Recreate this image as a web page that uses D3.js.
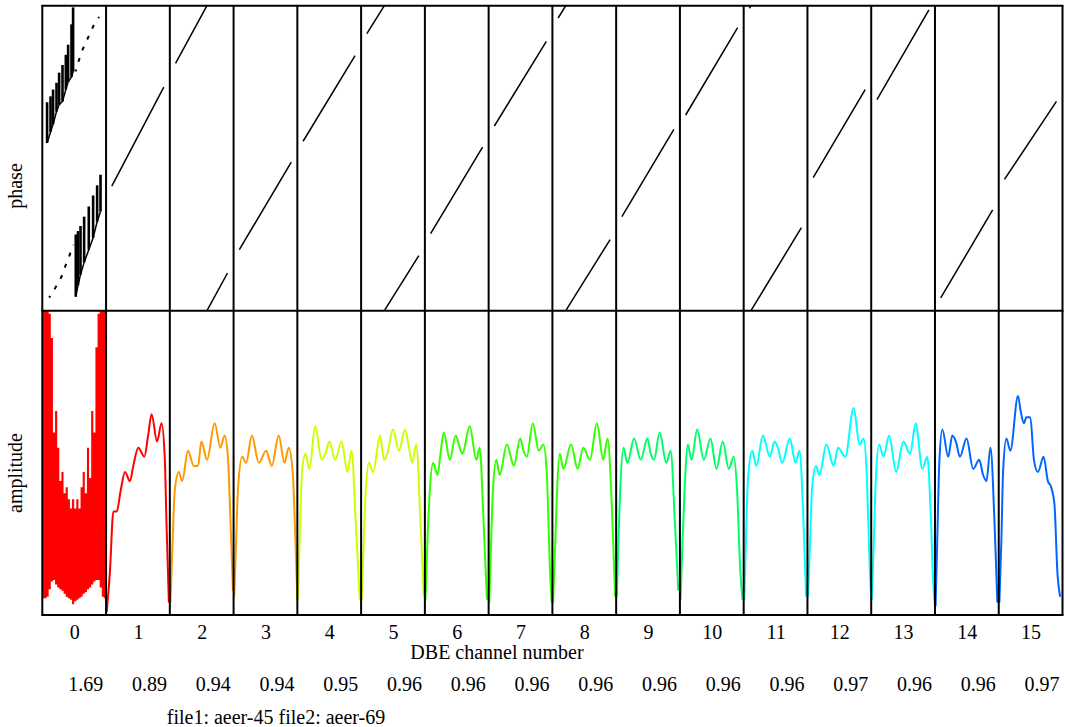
<!DOCTYPE html>
<html>
<head>
<meta charset="utf-8">
<script src="https://cdn.jsdelivr.net/npm/d3@7"></script>
<style>
  body { margin: 0; background: #fff; }
  svg { display: block; font-family: "Liberation Serif", "Times New Roman", serif; }
</style>
</head>
<body>
<svg id="chart" width="1065" height="727"></svg>
<script>
// channel ticks and the ratio printed under each channel
const channels = [0, 1, 2, 3, 4, 5, 6, 7, 8, 9, 10, 11, 12, 13, 14, 15];
const channelLabels = ["0", "1", "2", "3", "4", "5", "6", "7", "8", "9", "10", "11", "12", "13", "14", "15"];
const ratioLabels = ["1.69", "0.89", "0.94", "0.94", "0.95", "0.96", "0.96", "0.96",
  "0.96", "0.96", "0.96", "0.96", "0.97", "0.96", "0.96", "0.97"];

// phase (deg, unwrapped) at start / end of each channel passband, ch 1..15
const phaseStart = [null, -33, 112, -108, 20, 147, -89, 38, 165.5, -69, 51, 177, -23, 69, -165, -25];
const phaseEnd = [null, 84, 224.5, -4.5, 121, 245, 13, 138, 264, 34, 154, 278, 81, 175, -61, 67];

// channel 0 phase: vertical jumps [x, low, high] and dotted runs [x, phase]
const phase0UpperJumps = [[-0.425, 18, 66], [-0.371, 31, 73], [-0.331, 40, 81], [-0.277, 55, 89],
  [-0.236, 63, 101], [-0.183, 67, 110], [-0.131, 81, 122], [-0.095, 90, 134], [-0.042, 96, 158], [-0.017, 102, 178]];
const phase0LowerJumps = [[0.025, -163.5, -90], [0.06, -150, -86], [0.099, -137.5, -80], [0.156, -123, -69],
  [0.229, -108, -57], [0.297, -94, -44], [0.36, -75, -32], [0.413, -63, -19.5]];
const phase0UpperDots = [[0.021, 102.5], [0.077, 116.3], [0.131, 128.1], [0.203, 139.9],
  [0.261, 149.7], [0.324, 159.6], [0.391, 166.7]];
const phase0LowerDots = [[-0.393, -164.6], [-0.331, -157.6], [-0.268, -149.3], [-0.199, -139.9],
  [-0.136, -126.9], [-0.08, -116.3], [-0.017, -102.1]];

// channel 0 amplitude: 30 bins across the channel, top and bottom of each bin
const amp0High = [100, 100, 100, 99, 91, 60, 67, 55, 44, 47, 40, 42, 38, 35, 38,
  35, 38, 35, 42, 47, 40, 55, 45, 67, 60, 88, 99, 100, 100, 100];
const amp0Low = [5.5, 5.5, 6, 8.5, 11, 11.5, 10, 9, 8.5, 8, 7, 6, 5.5, 5, 3.5,
  4.5, 5, 5.5, 6, 7, 7.5, 8.5, 9, 10, 11, 11.5, 11.5, 9, 6, 5.5];

// amplitude per channel: [position inside channel 0..1, amplitude %]
const ampCurves = [
  [],
  [[.01, 1], [.06, 14], [.115, 34], [.167, 34], [.23, 41], [.297, 47], [.375, 44], [.427, 49], [.505, 55], [.6, 52], [.66, 59], [.714, 66], [.8, 57], [.87, 63], [.92, 52], [.948, 30], [.985, 4]],
  [[.01, 4], [.04, 22], [.078, 41], [.14, 47], [.193, 44], [.286, 54], [.375, 49], [.443, 49], [.495, 57], [.583, 51], [.703, 63], [.792, 55], [.86, 59], [.911, 52], [.953, 30], [.99, 8]],
  [[.01, 6], [.036, 22], [.068, 41], [.135, 52], [.198, 50], [.286, 59], [.396, 50], [.51, 54], [.599, 49], [.708, 59], [.797, 50], [.865, 55], [.927, 47], [.969, 25], [1.0, 5]],
  [[.01, 5], [.036, 25], [.073, 47], [.125, 53], [.188, 48], [.281, 62], [.38, 51], [.44, 53], [.5, 57], [.594, 51], [.693, 57], [.786, 47], [.849, 54], [.917, 30], [.979, 5]],
  [[.01, 5], [.042, 25], [.073, 41], [.125, 50], [.188, 47], [.297, 59], [.359, 51], [.411, 53], [.5, 61], [.594, 54], [.688, 61], [.75, 55], [.802, 50], [.865, 56], [.932, 30], [.984, 6]],
  [[.01, 5], [.042, 25], [.078, 41], [.13, 50], [.198, 46], [.245, 53], [.297, 60], [.391, 51], [.484, 59], [.547, 55], [.589, 53], [.703, 62], [.807, 51], [.859, 55], [.922, 30], [.974, 5]],
  [[.01, 4], [.036, 22], [.068, 41], [.12, 51], [.172, 46], [.286, 56], [.396, 49], [.495, 58], [.547, 54], [.599, 52], [.693, 63], [.786, 54], [.859, 56], [.911, 47], [.964, 14], [.99, 4]],
  [[.01, 4], [.042, 22], [.073, 41], [.115, 53], [.172, 48], [.292, 56], [.396, 48], [.484, 55], [.589, 51], [.698, 63], [.797, 51], [.865, 58], [.932, 36], [.984, 6]],
  [[.01, 6], [.036, 25], [.063, 41], [.115, 55], [.177, 50], [.281, 58], [.385, 51], [.49, 58], [.542, 53], [.594, 51], [.682, 60], [.786, 50], [.854, 54], [.922, 30], [.974, 8]],
  [[.01, 5], [.042, 25], [.073, 41], [.125, 56], [.182, 51], [.271, 61], [.375, 51], [.479, 58], [.573, 48], [.672, 57], [.766, 48], [.844, 52], [.896, 41], [.948, 14], [.984, 5]],
  [[.01, 5], [.036, 25], [.068, 45], [.135, 54], [.198, 49], [.302, 59], [.411, 52], [.484, 57], [.536, 55], [.604, 50], [.724, 58], [.813, 50], [.875, 54], [.932, 34], [.979, 6]],
  [[.01, 6], [.042, 25], [.073, 42], [.135, 49], [.188, 46], [.297, 56], [.411, 49], [.479, 55], [.594, 52], [.724, 68], [.818, 56], [.88, 58], [.932, 45], [.974, 17], [1.0, 5]],
  [[.01, 5], [.042, 25], [.073, 45], [.125, 56], [.193, 52], [.281, 59], [.391, 47], [.505, 57], [.609, 53], [.698, 63], [.802, 48], [.88, 52], [.932, 34], [.974, 10], [.995, 4]],
  [[.01, 3], [.036, 25], [.068, 50], [.115, 61], [.208, 52], [.271, 59], [.328, 57], [.391, 52], [.495, 58], [.599, 48], [.693, 51], [.755, 46], [.807, 44], [.87, 55], [.938, 28], [.979, 4]],
  [[.01, 4], [.042, 25], [.068, 47], [.12, 58], [.182, 54], [.302, 72], [.344, 67], [.396, 63], [.432, 65], [.495, 65], [.552, 51], [.615, 47], [.703, 52], [.771, 44], [.823, 42], [.875, 36], [.92, 14], [.964, 6]]
];

// R rainbow(10) colours, picked per channel
const palette = ["#FF0000", "#FF0000", "#FF9900", "#FF9900", "#CCFF00", "#CCFF00", "#33FF00", "#33FF00",
  "#33FF00", "#00FF66", "#00FF66", "#00FFFF", "#00FFFF", "#00FFFF", "#0066FF", "#0066FF"];

const svg = d3.select("#chart");
const yTop = 5.7, yMid = 310.7, yBottom = 615;

const x = d3.scaleLinear().domain([-0.5, 15.5]).range([42.3, 1062.5]);
const yPhase = d3.scaleLinear().domain([-180, 180]).range([yMid, yTop]);
const yAmp = d3.scaleLinear().domain([0, 100]).range([yBottom, yMid]);

// split a straight unwrapped phase ramp into wrapped pieces
function wrapSegments(x0, x1, p0, p1) {
  const segs = [];
  const slope = (x1 - x0) / (p1 - p0);
  let k = Math.floor((p0 + 180) / 360);
  let s = p0;
  while (s < p1) {
    const e = Math.min(p1, 180 + 360 * k);
    segs.push([[x0 + (s - p0) * slope, s - 360 * k], [x0 + (e - p0) * slope, e - 360 * k]]);
    s = e;
    k++;
  }
  return segs;
}

const phaseLine = d3.line().x(d => x(d[0])).y(d => yPhase(d[1]));

// phase panel
const gPhase = svg.append("g").attr("class", "phase");
channels.slice(1).forEach(ch => {
  wrapSegments(ch - 0.41, ch + 0.405, phaseStart[ch], phaseEnd[ch]).forEach(seg => {
    gPhase.append("path").attr("d", phaseLine(seg))
      .attr("fill", "none").attr("stroke", "#000").attr("stroke-width", 1.5);
  });
});

gPhase.selectAll("line.jump")
  .data(phase0UpperJumps.concat(phase0LowerJumps))
  .join("line")
  .attr("class", "jump")
  .attr("x1", d => x(d[0])).attr("x2", d => x(d[0]))
  .attr("y1", d => yPhase(d[1])).attr("y2", d => yPhase(d[2]))
  .attr("stroke", "#000").attr("stroke-width", 2.6);

// slanted edge along the bottom of each run of jumps
[phase0UpperJumps, phase0LowerJumps].forEach(jumps => {
  gPhase.append("path").attr("d", phaseLine(jumps.map(d => [d[0], d[1]])))
    .attr("fill", "none").attr("stroke", "#000").attr("stroke-width", 1.5);
});

[phase0UpperDots, phase0LowerDots].forEach(dots => {
  gPhase.append("path").attr("d", phaseLine(dots))
    .attr("fill", "none").attr("stroke", "#000").attr("stroke-width", 2)
    .attr("stroke-dasharray", "4,8").attr("stroke-dashoffset", 2);
});

// amplitude panel
const gAmp = svg.append("g").attr("class", "amplitude");

// channel 0 as one stepped area so neighbouring bins share edges
const bins = d3.scaleBand().domain(d3.range(amp0High.length)).range([x(-0.5), x(0.5)]).padding(0);
const binSteps = amp0High.map((d, i) => ({ x: bins(i), hi: d, lo: amp0Low[i] }));
binSteps.push({ x: x(0.5), hi: amp0High[amp0High.length - 1], lo: amp0Low[amp0Low.length - 1] });
gAmp.append("path")
  .attr("d", d3.area().curve(d3.curveStepAfter)
    .x(d => d.x).y0(d => yAmp(d.lo)).y1(d => yAmp(d.hi))(binSteps))
  .attr("fill", palette[0]);

const ampLine = d3.line().curve(d3.curveMonotoneX);
channels.slice(1).forEach(ch => {
  gAmp.append("path")
    .attr("d", ampLine.x(d => x(ch - 0.5 + d[0])).y(d => yAmp(d[1]))(ampCurves[ch]))
    .attr("fill", "none")
    .attr("stroke", palette[ch])
    .attr("stroke-width", 2);
});

// frame and channel dividers
const frame = svg.append("g").attr("stroke", "#000").attr("stroke-width", 2);
d3.range(-0.5, 16, 1).forEach(b => {
  frame.append("line").attr("x1", x(b)).attr("x2", x(b)).attr("y1", yTop).attr("y2", yBottom);
});
[yTop, yMid, yBottom].forEach(yy => {
  frame.append("line").attr("x1", x(-0.5) - 1).attr("x2", x(15.5) + 1).attr("y1", yy).attr("y2", yy);
});

// channel axis
const xAxis = d3.axisBottom(x)
  .tickValues(channels)
  .tickFormat((d, i) => channelLabels[i])
  .tickSize(0);
svg.append("g")
  .attr("transform", `translate(0,${yBottom})`)
  .call(xAxis)
  .call(g => g.select(".domain").remove())
  .attr("font-family", null).attr("font-size", null)
  .selectAll("text")
  .attr("dy", null).attr("y", 23.6)
  .attr("font-size", 20).attr("fill", "#000");

svg.append("text").attr("x", 497).attr("y", 658.5).attr("text-anchor", "middle")
  .attr("font-size", 20).text("DBE channel number");

svg.append("g").selectAll("text")
  .data(ratioLabels)
  .join("text")
  .attr("x", (d, i) => x(channels[i]) + 11.5)
  .attr("y", 691)
  .attr("text-anchor", "middle")
  .attr("font-size", 20)
  .text(d => d);

svg.append("text").attr("x", 276).attr("y", 724).attr("text-anchor", "middle")
  .attr("font-size", 20).text("file1: aeer-45 file2: aeer-69");

svg.append("text").attr("transform", "translate(22,186) rotate(-90)")
  .attr("text-anchor", "middle").attr("font-size", 20).text("phase");
svg.append("text").attr("transform", "translate(22,473) rotate(-90)")
  .attr("text-anchor", "middle").attr("font-size", 20).text("amplitude");
</script>
</body>
</html>
